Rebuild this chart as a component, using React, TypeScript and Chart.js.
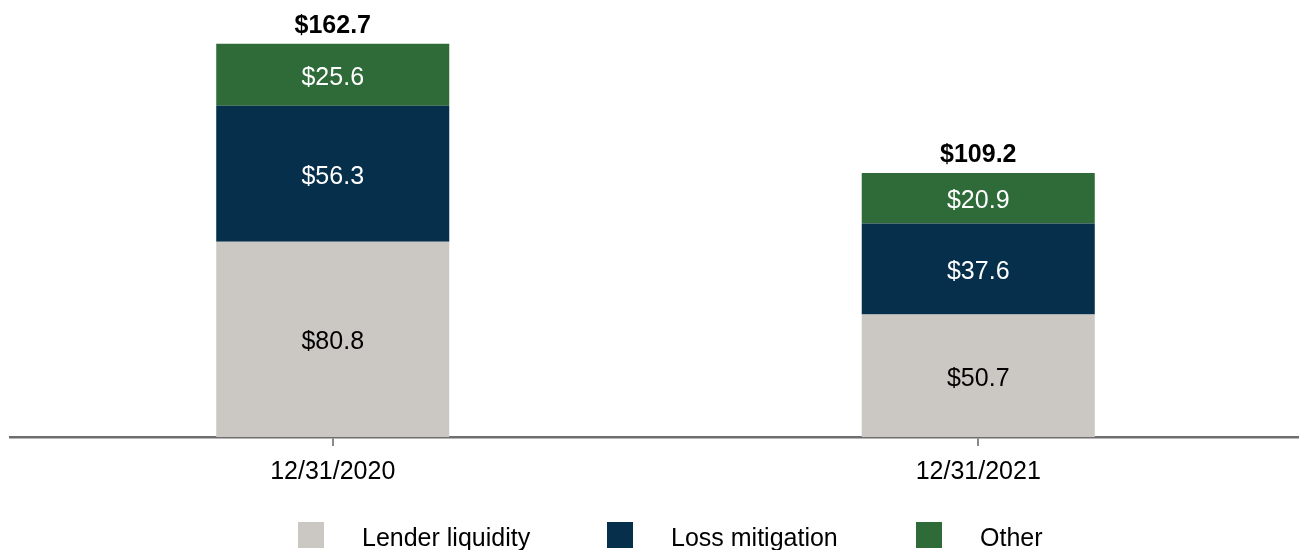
import React, { useEffect, useRef } from "react";
import { Chart, registerables } from "chart.js";

Chart.register(...registerables);

const categories = ["12/31/2020", "12/31/2021"];
const lenderLiquidity = [80.8, 50.7];
const lossMitigation = [56.3, 37.6];
const other = [25.6, 20.9];
const totals = [162.7, 109.2];
const seriesLabels = ["Lender liquidity", "Loss mitigation", "Other"];
const seriesColors = ["#CBC8C3", "#062F4B", "#2E6B38"];
const valueLabelColors = ["#000000", "#FFFFFF", "#FFFFFF"];

const FONT = "'Liberation Sans', Arial, Helvetica, sans-serif";

const fmt = (v: number) => "$" + v.toFixed(1);

const valueLabelsPlugin = {
  id: "valueLabels",
  afterDatasetsDraw(chart: any) {
    const ctx = chart.ctx;
    ctx.save();
    ctx.textAlign = "center";
    ctx.textBaseline = "middle";
    ctx.font = `25px ${FONT}`;
    chart.data.datasets.forEach((ds: any, i: number) => {
      const meta = chart.getDatasetMeta(i);
      meta.data.forEach((bar: any, j: number) => {
        const mid = (bar.y + bar.base) / 2;
        ctx.fillStyle = valueLabelColors[i];
        ctx.fillText(fmt(ds.data[j]), bar.x, mid + 3);
      });
    });
    const last = chart.getDatasetMeta(chart.data.datasets.length - 1);
    ctx.font = `bold 25px ${FONT}`;
    ctx.fillStyle = "#000000";
    last.data.forEach((bar: any, j: number) => {
      ctx.fillText(fmt(totals[j]), bar.x, bar.y - 18);
    });
    ctx.restore();
  },
};

const legendPlugin = {
  id: "customLegend",
  afterDraw(chart: any) {
    const ctx = chart.ctx;
    ctx.save();
    ctx.font = `25px ${FONT}`;
    ctx.textBaseline = "middle";
    ctx.textAlign = "left";
    const startX = 298;
    const step = 309;
    const boxY = 522;
    const box = 26;
    chart.data.datasets.forEach((ds: any, i: number) => {
      const x = startX + i * step;
      ctx.fillStyle = ds.backgroundColor;
      ctx.fillRect(x, boxY, box, box);
      ctx.fillStyle = "#000000";
      ctx.fillText(ds.label, x + 64, boxY + box / 2 + 4);
    });
    ctx.restore();
  },
};

export default function App() {
  const ref = useRef<HTMLCanvasElement | null>(null);

  useEffect(() => {
    document.body.style.margin = "0";
    document.body.style.overflow = "hidden";
    if (!ref.current) return;
    const values = [lenderLiquidity, lossMitigation, other];
    const chart = new Chart(ref.current, {
      type: "bar",
      data: {
        labels: categories,
        datasets: seriesLabels.map((label, i) => ({
          label,
          data: values[i],
          backgroundColor: seriesColors[i],
          borderWidth: 0,
          categoryPercentage: 1,
          barPercentage: 0.361,
        })),
      },
      options: {
        animation: false,
        responsive: true,
        maintainAspectRatio: false,
        layout: { padding: { top: 2, left: 10, right: 0, bottom: 65 } },
        plugins: {
          legend: { display: false },
          tooltip: { enabled: false },
        },
        scales: {
          x: {
            stacked: true,
            offset: true,
            grid: {
              display: true,
              offset: false,
              drawOnChartArea: false,
              drawTicks: true,
              tickLength: 9,
              color: "#8a8a8a",
              lineWidth: 2,
            },
            border: { display: true, color: "#6e6e6e", width: 2.5 },
            ticks: {
              color: "#000000",
              font: { size: 25, family: FONT },
              padding: 11,
              maxRotation: 0,
            },
            afterFit: (scale: any) => {
              scale.height = 48;
            },
          },
          y: {
            stacked: true,
            display: false,
            min: 0,
            max: 180,
          },
        },
      },
      plugins: [valueLabelsPlugin, legendPlugin],
    });
    return () => chart.destroy();
  }, []);

  return (
    <div style={{ position: "relative", width: 1301, height: 550 }}>
      <canvas ref={ref} />
    </div>
  );
}
